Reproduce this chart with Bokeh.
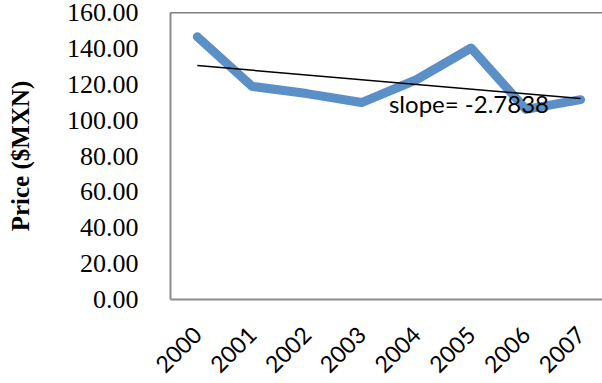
import math
import numpy as np
from bokeh.plotting import figure
from bokeh.models import Range1d, FixedTicker, NumeralTickFormatter, Span
from bokeh.core.properties import value
from bokeh.embed import file_html
from bokeh.resources import INLINE

years = ["2000", "2001", "2002", "2003", "2004", "2005", "2006", "2007"]
price = [146.5, 118.8, 114.8, 109.8, 122.5, 140.2, 106.0, 111.4]
y_ticks = [0, 20, 40, 60, 80, 100, 120, 140, 160]
slope_label = "slope= -2.7838"

xs = list(range(len(years)))

p = figure(width=602, height=383, output_backend="svg", toolbar_location=None,
           x_range=Range1d(-0.49, 7.40), y_range=Range1d(0, 160),
           min_border_left=170, min_border_right=0, min_border_top=12, min_border_bottom=81)
p.outline_line_color = None
p.grid.grid_line_color = None
p.background_fill_color = "white"
p.border_fill_color = "white"

p.line(xs, price, line_color="#5B8FC8", line_width=9, line_cap="round", line_join="round")

k, b = np.polyfit(xs, price, 1)
tx = [xs[0], xs[-1]]
p.line(tx, [k * t + b for t in tx], line_color="black", line_width=1.5)

p.text(x=[3.5], y=[109.0], text=[slope_label], text_font=value("Lato"),
       text_font_size=value("24px"), text_color="black",
       text_align="left", text_baseline="alphabetic")

p.add_layout(Span(location=160, dimension="width", line_color="black", line_width=1.5))

xa = p.xaxis[0]
xa.ticker = FixedTicker(ticks=xs)
xa.major_label_overrides = {i: y for i, y in enumerate(years)}
xa.major_label_orientation = math.pi / 4
xa.major_label_text_font = "Lato"
xa.major_label_text_font_size = "23px"
xa.major_label_text_color = "black"
xa.major_label_standoff = 25
xa.major_tick_line_color = None
xa.minor_tick_line_color = None
xa.axis_line_color = "#8c8c8c"
xa.axis_line_width = 2

ya = p.yaxis[0]
ya.ticker = FixedTicker(ticks=y_ticks)
ya.formatter = NumeralTickFormatter(format="0.00")
ya.major_label_text_font = "Liberation Serif"
ya.major_label_text_font_size = "26px"
ya.major_label_text_color = "black"
ya.major_label_standoff = 26
ya.major_tick_line_color = None
ya.minor_tick_line_color = None
ya.axis_line_color = "#8c8c8c"
ya.axis_line_width = 2
ya.axis_label = "Price ($MXN)"
ya.axis_label_text_font = "Liberation Serif"
ya.axis_label_text_font_style = "bold"
ya.axis_label_text_font_size = "25px"
ya.axis_label_text_color = "black"
ya.axis_label_standoff = 30

open("out.html", "w").write(file_html(p, INLINE))
